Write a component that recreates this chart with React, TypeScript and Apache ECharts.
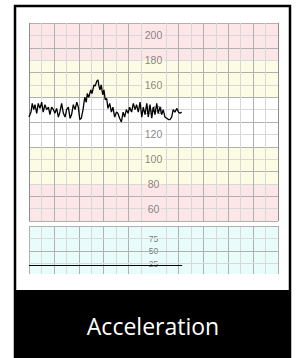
import React, { useEffect, useRef } from "react";
import * as echarts from "echarts";

// Fetal heart rate trace (time in grid units, value in bpm)
const fhrTimes = [
  0.00, 0.08, 0.13, 0.19, 0.24, 0.31, 0.37, 0.44, 0.51, 0.57, 0.64, 0.71, 0.78, 0.84, 0.91, 0.98,
  1.04, 1.11, 1.18, 1.24, 1.31, 1.38, 1.45, 1.51, 1.58, 1.65, 1.71, 1.78, 1.85, 1.92, 1.98,
  2.04, 2.10, 2.17, 2.24, 2.30, 2.34, 2.40, 2.48, 2.53, 2.61, 2.66, 2.72, 2.77, 2.81, 2.85,
  2.90, 2.96, 3.01, 3.06, 3.12, 3.17, 3.24, 3.31, 3.37, 3.44, 3.51, 3.57, 3.64, 3.71, 3.78,
  3.84, 3.91, 3.98, 4.04,
  4.12, 4.19, 4.26, 4.32, 4.39, 4.46, 4.53, 4.59, 4.66, 4.73, 4.79, 4.86, 4.93, 4.99, 5.06,
  5.13, 5.19, 5.26, 5.33, 5.39, 5.46, 5.53, 5.60, 5.66, 5.73, 5.79, 5.86, 5.94, 6.00, 6.06, 6.13,
];
const fhrValues = [
  134, 138, 145, 140, 144, 137, 145, 141, 146, 138, 144, 140, 142, 136, 142, 140,
  137, 141, 134, 138, 145, 137, 134, 140, 142, 133, 136, 144, 140, 146, 142,
  132, 133, 140, 150, 146, 153, 150, 156, 153, 160, 159, 163, 164, 159, 156,
  160, 152, 156, 148, 149, 141, 145, 138, 142, 134, 138, 137, 133, 130, 138,
  134, 140, 137, 142,
  138, 145, 140, 144, 138, 146, 134, 142, 136, 145, 134, 144, 133, 142, 136,
  145, 137, 142, 136, 140, 134, 133, 132, 132, 134, 140, 138, 141, 138, 137, 138,
];

// Uterine activity trace
const tocoTimes = [0, 6.15];
const tocoValues = [21, 21];

// Tick labels
const fhrLabels = [200, 180, 160, 140, 120, 100, 80, 60];
const tocoLabels = [75, 50, 25];
const tocoLines = [100, 75, 50, 25];
const tocoMajor = [100, 50];

// Vertical grid lines (time)
const majorTimes = [0, 1, 2, 3, 4, 6, 7, 8, 9, 10];
const minorTimes = [0.5, 1.5, 2.5, 3.5, 4.5, 5.5, 6.5, 7.5, 8.5, 9.5];
const labelTime = 5;

// Background bands (bpm)
const pinkBands = [[180, 210], [50, 80]];
const yellowBands = [[150, 180], [80, 110]];

const PINK = "#fde6e8";
const YELLOW = "#fcfce4";
const WHITE = "#ffffff";
const CYAN = "#e8fcfc";
const MAJOR = "#b0b0b0";
const MINOR = "#d8d8d8";
const EDGE = "#8c8c8c";

function bandColor(v: number): any {
  const inBand = (bands: number[][], x: number) => bands.some(([a, b]) => x > a && x < b);
  const colorAt = (x: number) => (inBand(pinkBands, x) ? PINK : inBand(yellowBands, x) ? YELLOW : WHITE);
  const above = colorAt(v + 1);
  const below = colorAt(v - 1);
  if (above === below) return above;
  return {
    type: "linear", x: 0, y: 0, x2: 0, y2: 1,
    colorStops: [
      { offset: 0, color: above }, { offset: 0.5, color: above },
      { offset: 0.5, color: below }, { offset: 1, color: below },
    ],
  };
}

export default function App() {
  const ref = useRef<HTMLDivElement>(null);
  useEffect(() => {
    if (!ref.current) return;
    const chart = echarts.init(ref.current, undefined, { renderer: "svg" });
    const vLines = (edge: boolean) => [
      ...majorTimes.map((t) => ({
        xAxis: t,
        lineStyle: { color: edge && (t === 0 || t === 10) ? EDGE : MAJOR },
      })),
      ...minorTimes.map((t) => ({ xAxis: t, lineStyle: { color: MINOR } })),
    ];
    const markLineBase = {
      silent: true,
      symbol: ["none", "none"],
      label: { show: false },
      emphasis: { disabled: true },
      lineStyle: { type: "solid", width: 1 },
    };
    const hiddenAxis = {
      axisLine: { show: false },
      axisTick: { show: false },
      axisLabel: { show: false },
    };
    chart.setOption({
      animation: false,
      grid: [
        { left: 29, top: 23, width: 249, height: 198 },
        { left: 29, top: 226, width: 249, height: 48, show: true, backgroundColor: CYAN, borderWidth: 0 },
      ],
      xAxis: [
        { type: "value", gridIndex: 0, min: 0, max: 10, splitLine: { show: false }, ...hiddenAxis },
        { type: "value", gridIndex: 1, min: 0, max: 10, splitLine: { show: false }, ...hiddenAxis },
      ],
      yAxis: [
        {
          type: "value", gridIndex: 0, min: 50, max: 210, interval: 20, z: 3,
          splitLine: { show: true, lineStyle: { color: MAJOR, width: 1 } },
          minorTick: { show: false, splitNumber: 2 },
          minorSplitLine: { show: true, lineStyle: { color: MINOR, width: 1 } },
          ...hiddenAxis,
        },
        { type: "value", gridIndex: 1, min: 4, max: 100, splitLine: { show: false }, ...hiddenAxis },
      ],
      graphic: [
        {
          type: "rect", z: 10,
          shape: { x: 15, y: 6, width: 275, height: 360 },
          style: { fill: "none", stroke: "#000", lineWidth: 2.5 },
        },
        {
          type: "rect", z: 11,
          shape: { x: 14, y: 290, width: 277, height: 68 },
          style: { fill: "#000" },
        },
        {
          type: "text", z: 12, x: 153, y: 326,
          style: {
            text: "Acceleration", fill: "#fff", font: "23px 'Open Sans', sans-serif",
            textAlign: "center", textVerticalAlign: "middle",
          },
        },
      ],
      series: [
        {
          type: "line", xAxisIndex: 0, yAxisIndex: 0, data: [], z: 1, silent: true,
          markArea: {
            silent: true,
            data: [
              ...pinkBands.map(([a, b]) => [{ yAxis: a, itemStyle: { color: PINK } }, { yAxis: b }]),
              ...yellowBands.map(([a, b]) => [{ yAxis: a, itemStyle: { color: YELLOW } }, { yAxis: b }]),
            ],
          },
        },
        {
          type: "line", xAxisIndex: 0, yAxisIndex: 0, data: [], z: 3, silent: true,
          markLine: { ...markLineBase, data: vLines(true) },
        },
        {
          type: "line", xAxisIndex: 1, yAxisIndex: 1, data: [], z: 3, silent: true,
          markLine: {
            ...markLineBase,
            data: [
              ...vLines(false),
              ...tocoLines.map((v) => ({ yAxis: v, lineStyle: { color: tocoMajor.includes(v) ? MAJOR : MINOR } })),
            ],
          },
        },
        {
          type: "scatter", xAxisIndex: 0, yAxisIndex: 0, z: 4, silent: true, symbolSize: 0,
          data: fhrLabels.map((v) => ({
            value: [labelTime, v],
            label: { backgroundColor: bandColor(v) },
          })),
          label: {
            show: true, position: "inside", color: "#666", fontSize: 10.5,
            fontFamily: "Liberation Sans, Arial, sans-serif", padding: [1, 2],
            formatter: (p: any) => String(p.value[1]),
          },
        },
        {
          type: "scatter", xAxisIndex: 1, yAxisIndex: 1, z: 4, silent: true, symbolSize: 0,
          data: tocoLabels.map((v) => ({ value: [labelTime, v] })),
          label: {
            show: true, position: "inside", color: "#555", fontSize: 8.5,
            fontFamily: "Liberation Sans, Arial, sans-serif", padding: [0, 2],
            backgroundColor: CYAN,
            formatter: (p: any) => String(p.value[1]),
          },
        },
        {
          type: "line", xAxisIndex: 0, yAxisIndex: 0, z: 5, silent: true,
          showSymbol: false, symbol: "none",
          lineStyle: { color: "#000", width: 1.3 },
          data: fhrTimes.map((t, i) => [t, fhrValues[i]]),
        },
        {
          type: "line", xAxisIndex: 1, yAxisIndex: 1, z: 5, silent: true,
          showSymbol: false, symbol: "none",
          lineStyle: { color: "#000", width: 1 },
          data: tocoTimes.map((t, i) => [t, tocoValues[i]]),
        },
      ],
    });
    return () => chart.dispose();
  }, []);
  return (
    <div
      ref={ref}
      style={{ position: "fixed", left: 0, top: 0, width: 299, height: 358, background: "#fff" }}
    />
  );
}
